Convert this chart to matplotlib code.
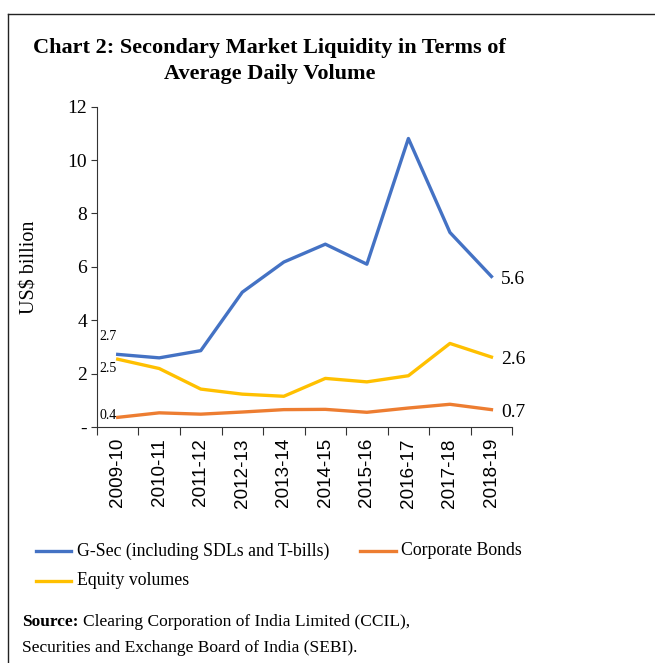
import matplotlib.pyplot as plt
from matplotlib.lines import Line2D

years = ['2009-10', '2010-11', '2011-12', '2012-13', '2013-14',
         '2014-15', '2015-16', '2016-17', '2017-18', '2018-19']
gsec = [2.72, 2.59, 2.86, 5.05, 6.18, 6.85, 6.10, 10.81, 7.29, 5.64]
corp = [0.36, 0.53, 0.48, 0.56, 0.65, 0.66, 0.55, 0.71, 0.85, 0.65]
equity = [2.54, 2.19, 1.42, 1.23, 1.15, 1.82, 1.69, 1.92, 3.13, 2.62]
y_ticks = [0, 2, 4, 6, 8, 10, 12]
y_ticklabels = ['-', '2', '4', '6', '8', '10', '12']

blue = '#4472c4'
orange = '#ed7d31'
yellow = '#ffc000'
serif = 'Liberation Serif'

fig = plt.figure(figsize=(6.55, 6.63), dpi=100)
ax = fig.add_axes([0.148, 0.356, 0.634, 0.483])

x = list(range(len(years)))
ax.plot(x, gsec, color=blue, lw=2.4)
ax.plot(x, corp, color=orange, lw=2.4)
ax.plot(x, equity, color=yellow, lw=2.4)

ax.set_xlim(-0.5, len(years) - 0.5)
ax.set_ylim(0, 12)
ax.set_yticks(y_ticks)
ax.set_yticklabels(y_ticklabels, fontfamily=serif, fontsize=14)
ax.set_xticks([i - 0.5 for i in range(len(years) + 1)])
ax.set_xticklabels([])
ax.set_xticks(x, minor=True)
ax.set_xticklabels(years, minor=True, rotation=90, fontsize=13.6,
                   fontfamily='Liberation Sans')
ax.tick_params(axis='x', which='minor', length=0, pad=8)
ax.tick_params(axis='x', which='major', length=6, color='#333333')
ax.tick_params(axis='y', length=4, color='#333333', pad=3)
for s in ['top', 'right']:
    ax.spines[s].set_visible(False)
for s in ['left', 'bottom']:
    ax.spines[s].set_color('#333333')
ax.set_ylabel('US$ billion', fontfamily=serif, fontsize=14.5, labelpad=20)

# value labels
ax.annotate(f'{gsec[0]:.1f}', (x[0], gsec[0]), xytext=(-13, 13),
            textcoords='offset points', fontsize=10, fontfamily=serif,
            va='center')
ax.annotate(f'{equity[0]:.1f}', (x[0], equity[0]), xytext=(-13, -7),
            textcoords='offset points', fontsize=10, fontfamily=serif,
            va='center')
ax.annotate(f'{corp[0]:.1f}', (x[0], corp[0]), xytext=(-13, 1),
            textcoords='offset points', fontsize=10, fontfamily=serif,
            va='center')
for vals in [gsec, equity, corp]:
    ax.annotate(f'{vals[-1]:.1f}', (x[-1], vals[-1]), xytext=(7, -2),
                textcoords='offset points', fontsize=14, fontfamily=serif,
                va='center')

fig.text(0.412, 0.908, 'Chart 2: Secondary Market Liquidity in Terms of\nAverage Daily Volume',
         ha='center', va='center', fontsize=16, fontweight='bold',
         fontfamily=serif, linespacing=1.4)

# legend, drawn by hand to match the layout
leg_items = [(blue, 'G-Sec (including SDLs and T-bills)', 0.055, 0.169),
             (orange, 'Corporate Bonds', 0.550, 0.169),
             (yellow, 'Equity volumes', 0.055, 0.124)]
for color, label, lx, ly in leg_items:
    fig.add_artist(Line2D([lx, lx + 0.054], [ly, ly], color=color, lw=2.4,
                          transform=fig.transFigure))
    fig.text(lx + 0.062, ly, label, fontsize=12.8, fontfamily=serif,
             va='center')

src = fig.text(0.034, 0.062, 'Source:', fontsize=12.5, fontweight='bold',
               fontfamily=serif, va='center')
fig.canvas.draw()
bb = src.get_window_extent().transformed(fig.transFigure.inverted())
fig.text(bb.x1 + 0.007, 0.062, 'Clearing Corporation of India Limited (CCIL),',
         fontsize=12.5, fontfamily=serif, va='center')
fig.text(0.034, 0.022, 'Securities and Exchange Board of India (SEBI).',
         fontsize=12.5, fontfamily=serif, va='center')

# frame lines at left and top
fig.add_artist(Line2D([0.012, 0.012], [0, 0.979], color='#222222', lw=1,
                      transform=fig.transFigure))
fig.add_artist(Line2D([0.012, 1], [0.979, 0.979], color='#222222', lw=1,
                      transform=fig.transFigure))

fig.savefig('out.png', dpi=100)
